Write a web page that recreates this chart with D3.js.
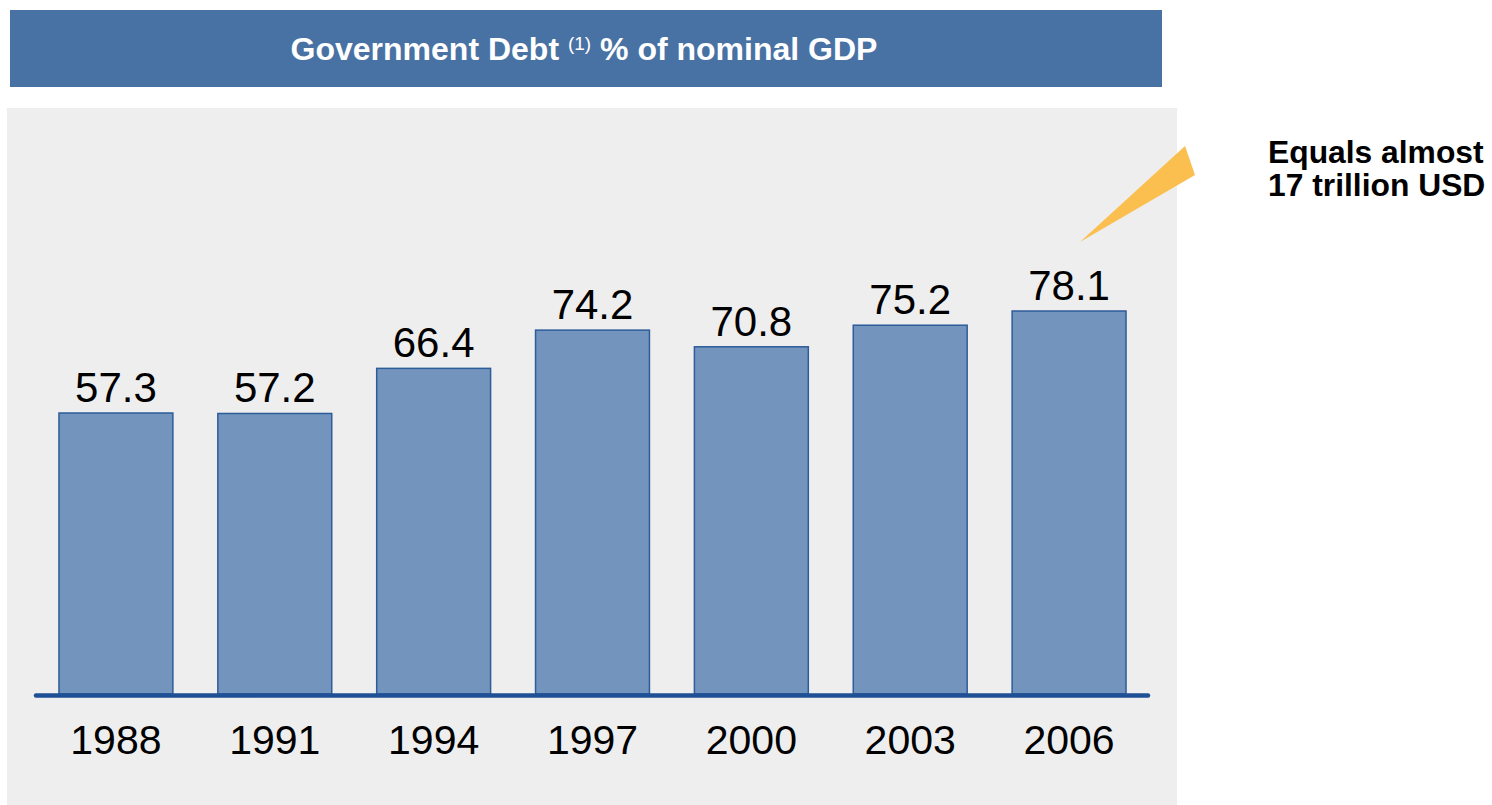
<!DOCTYPE html>
<html>
<head>
<meta charset="utf-8">
<script src="https://cdn.jsdelivr.net/npm/d3@7"></script>
<style>
  body { margin: 0; background: #fff; }
  svg { display: block; font-family: "Liberation Sans", Arial, sans-serif; }
</style>
</head>
<body>
<div id="chart"></div>
<script>
// chart data
const years = ["1988", "1991", "1994", "1997", "2000", "2003", "2006"];
const debtPct = [57.3, 57.2, 66.4, 74.2, 70.8, 75.2, 78.1];
const calloutLines = ["Equals almost", "17 trillion USD"];

const W = 1492, H = 805;
const svg = d3.select("#chart").append("svg")
    .attr("width", W).attr("height", H);

// header band
svg.append("rect")
    .attr("x", 10).attr("y", 10)
    .attr("width", 1152).attr("height", 77)
    .attr("fill", "#4872a3");

let title = svg.append("text")
    .attr("x", 584).attr("y", 60)
    .attr("text-anchor", "middle")
    .attr("fill", "#fff")
    .attr("font-weight", "bold")
    .attr("font-size", 32);
title.append("tspan").text("Government Debt ");
title.append("tspan").attr("font-size", 19).attr("font-weight", "normal").attr("dy", -10).text("(1)");
title.append("tspan").attr("dy", 10).text(" % of nominal GDP");

// grey panel
svg.append("rect")
    .attr("x", 7).attr("y", 108)
    .attr("width", 1170).attr("height", H - 108)
    .attr("fill", "#eeeeee");

let x = d3.scaleBand()
    .domain(years)
    .range([36.5, 1148.5])
    .paddingInner(0.283)
    .paddingOuter(0.1415);

let y = d3.scaleLinear()
    .domain([0, 100])
    .range([694, 694 - 490.4]);

svg.append("g").selectAll("rect")
    .data(debtPct)
    .join("rect")
    .attr("x", (d, i) => x(years[i]))
    .attr("y", d => y(d))
    .attr("width", x.bandwidth())
    .attr("height", d => y(0) - y(d))
    .attr("fill", "#7395bd")
    .attr("stroke", "#2d5c9a")
    .attr("stroke-width", 1.5);

// value labels
svg.append("g").selectAll("text")
    .data(debtPct)
    .join("text")
    .attr("x", (d, i) => x(years[i]) + x.bandwidth() / 2)
    .attr("y", d => y(d) - 11)
    .attr("text-anchor", "middle")
    .attr("font-size", 42)
    .attr("fill", "#000")
    .text(d => d.toFixed(1));

// baseline
svg.append("line")
    .attr("x1", 36).attr("x2", 1148)
    .attr("y1", y(0) + 1.5).attr("y2", y(0) + 1.5)
    .attr("stroke", "#1f5096")
    .attr("stroke-width", 4.5)
    .attr("stroke-linecap", "round");

// year axis (no line, labels only)
let xAxis = svg.append("g")
    .attr("transform", "translate(0," + 754 + ")")
    .call(d3.axisBottom(x).tickSize(0).tickPadding(0));
xAxis.select(".domain").remove();
xAxis.selectAll("text")
    .attr("dy", 0)
    .attr("y", 0)
    .attr("font-size", 41)
    .attr("font-family", "Liberation Sans, Arial, sans-serif")
    .attr("fill", "#000");

// callout wedge
svg.append("path")
    .attr("d", "M1080,242 L1185,146 L1195,175 Z")
    .attr("fill", "#fbbf50");

svg.append("g").selectAll("text")
    .data(calloutLines)
    .join("text")
    .attr("x", 1268)
    .attr("y", (d, i) => 163 + i * 33)
    .attr("font-size", 31.8)
    .attr("font-weight", "bold")
    .attr("fill", "#000")
    .text(d => d);
</script>
</body>
</html>
